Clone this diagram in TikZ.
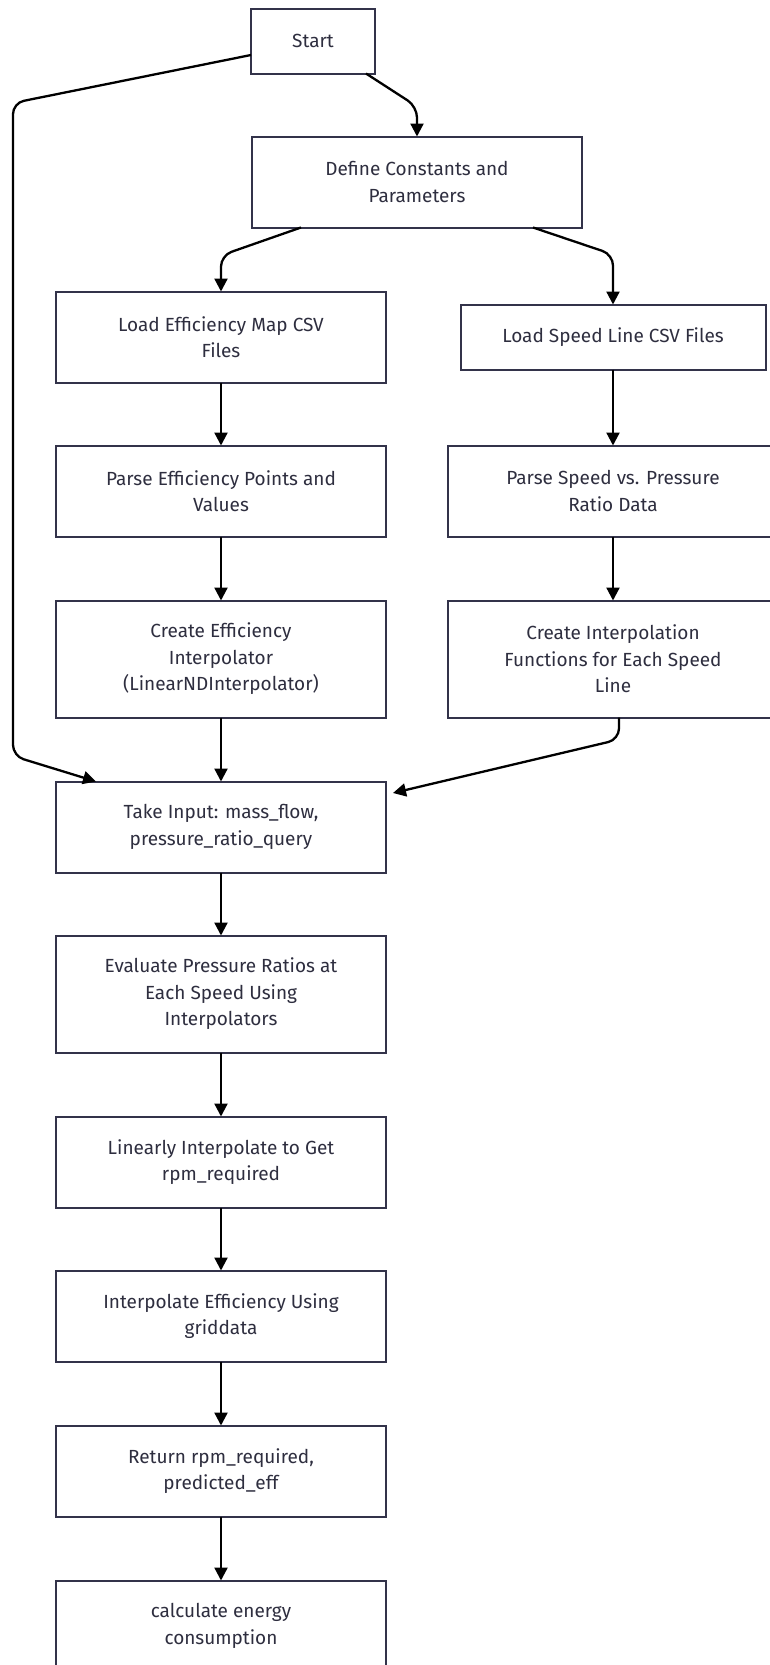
\documentclass[tikz,border=0pt]{standalone}
\usepackage{fontspec}
\setmainfont{Fira Sans}
\usetikzlibrary{arrows.meta}
\definecolor{ink}{HTML}{2E2E3F}
\definecolor{edge}{HTML}{33334A}

\begin{document}
\begin{tikzpicture}[x=1pt,y=-1pt,
	box/.style={draw=edge,line width=2pt,fill=white,rectangle,inner sep=0,outer sep=0,align=center,text=ink,font=\fontsize{19}{26.5}\selectfont},
	flow/.style={line width=2.3pt,rounded corners=11pt,-{Triangle[length=13pt,width=13pt]}}]
	\useasboundingbox (0,0) rectangle (769,1665);
	\fill[white] (0,0) rectangle (769,1665);
	\node[box,minimum width=124pt,minimum height=65pt] (1) at (313,41) {Start};
	\node[box,minimum width=330pt,minimum height=91pt] (2) at (417,182) {Define Constants and\\Parameters};
	\node[box,minimum width=330pt,minimum height=91pt] (3) at (221,337) {Load Efficiency Map CSV\\Files};
	\node[box,minimum width=305pt,minimum height=65pt] (4) at (613,337) {Load Speed Line CSV Files};
	\node[box,minimum width=330pt,minimum height=91pt] (5) at (221,491) {Parse Efficiency Points and\\Values};
	\node[box,minimum width=330pt,minimum height=91pt] (6) at (613,491) {Parse Speed vs. Pressure\\Ratio Data};
	\node[box,minimum width=330pt,minimum height=117pt] (7) at (221,659) {Create Efficiency\\Interpolator\\(LinearNDInterpolator)};
	\node[box,minimum width=330pt,minimum height=117pt] (8) at (613,659) {Create Interpolation\\Functions for Each Speed\\Line};
	\node[box,minimum width=330pt,minimum height=91pt] (9) at (221,827) {Take Input: mass\_flow,\\pressure\_ratio\_query};
	\node[box,minimum width=330pt,minimum height=117pt] (10) at (221,994) {Evaluate Pressure Ratios at\\Each Speed Using\\Interpolators};
	\node[box,minimum width=330pt,minimum height=91pt] (11) at (221,1162) {Linearly Interpolate to Get\\rpm\_required};
	\node[box,minimum width=330pt,minimum height=91pt] (12) at (221,1316) {Interpolate Efficiency Using\\griddata};
	\node[box,minimum width=330pt,minimum height=91pt] (13) at (221,1471) {Return rpm\_required,\\predicted\_eff};
	\node[box,minimum width=330pt,minimum height=91pt] (14) at (221,1626) {calculate energy\\consumption};
	\draw[flow] ([xshift=-9pt]1.south east) -- ([yshift=30pt]2.north) -- (2.north);
	\draw[flow] ([yshift=-14pt]1.west) -- (13,103) -- (13,756) -- ([xshift=-125pt]9.north);
	\draw[flow] ([xshift=-116pt]2.south) -- ([yshift=36pt]3.north) -- (3.north);
	\draw[flow] ([xshift=116pt]2.south) -- ([yshift=50pt]4.north) -- (4.north);
	\draw[flow] (3) -- (5);
	\draw[flow] (5) -- (7);
	\draw[flow] (4) -- (6);
	\draw[flow] (6) -- (8);
	\draw[flow] (7) -- (9);
	\draw[flow] ([xshift=6pt]8.south) -- ([xshift=6pt,yshift=-22pt]8.south) -- ([xshift=7pt,yshift=34pt]9.east);
	\draw[flow] (9) -- (10);
	\draw[flow] (10) -- (11);
	\draw[flow] (11) -- (12);
	\draw[flow] (12) -- (13);
	\draw[flow] (13) -- (14);
\end{tikzpicture}
\end{document}
